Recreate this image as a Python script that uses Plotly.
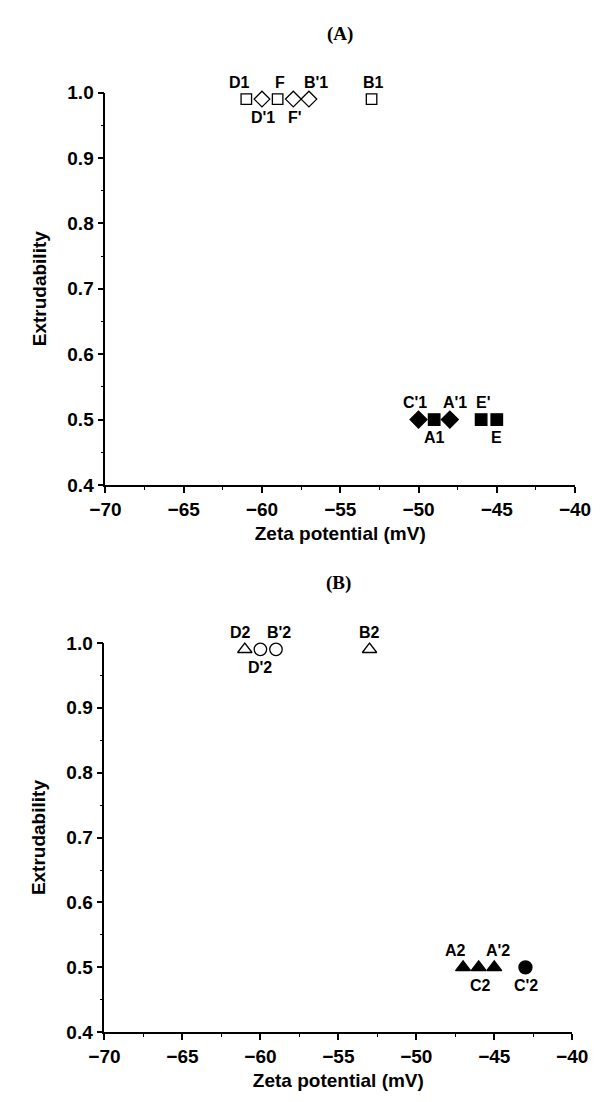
import plotly.graph_objects as go

# ---------------- data ----------------
# Panel A
a_open_sq_lbl = ["D1", "F", "B1"]
a_open_sq_x = [-61, -59, -53]
a_open_sq_y = [0.99, 0.99, 0.99]

a_open_dia_lbl = ["D'1", "F'", "B'1"]
a_open_dia_x = [-60, -58, -57]
a_open_dia_y = [0.99, 0.99, 0.99]

a_fill_dia_lbl = ["C'1", "A'1"]
a_fill_dia_x = [-50, -48]
a_fill_dia_y = [0.5, 0.5]

a_fill_sq_lbl = ["A1", "E'", "E"]
a_fill_sq_x = [-49, -46, -45]
a_fill_sq_y = [0.5, 0.5, 0.5]

# Panel B
b_open_tri_lbl = ["D2", "B2"]
b_open_tri_x = [-61, -53]
b_open_tri_y = [0.99, 0.99]

b_open_circ_lbl = ["D'2", "B'2"]
b_open_circ_x = [-60, -59]
b_open_circ_y = [0.99, 0.99]

b_fill_tri_lbl = ["A2", "C2", "A'2"]
b_fill_tri_x = [-47, -46, -45]
b_fill_tri_y = [0.5, 0.5, 0.5]

b_fill_circ_lbl = ["C'2"]
b_fill_circ_x = [-43]
b_fill_circ_y = [0.5]

x_ticks = [-70, -65, -60, -55, -50, -45, -40]
y_ticks = [0.4, 0.5, 0.6, 0.7, 0.8, 0.9, 1.0]

# ---------------- styling ----------------
# label placement: (above?, xshift px)
label_style = {
    "D1": (True, -7), "F": (True, 2), "B1": (True, 2), "B'1": (True, 7),
    "D'1": (False, 1), "F'": (False, 2),
    "C'1": (True, -4), "A'1": (True, 5), "E'": (True, 2),
    "A1": (False, 0), "E": (False, 0),
    "D2": (True, -4), "B2": (True, 0), "B'2": (True, 3), "D'2": (False, 0),
    "A2": (True, -8), "A'2": (True, 4), "C2": (False, 2), "C'2": (False, 1),
}

SANS = "Arial, Liberation Sans, sans-serif"
SERIF = "Times New Roman, Liberation Serif, serif"

fig = go.Figure()

def add_series(xs, ys, lbls, symbol, size, xa, ya):
    fig.add_trace(go.Scatter(
        x=xs, y=ys, mode="markers", xaxis=xa, yaxis=ya,
        marker=dict(symbol=symbol, size=size, color="black",
                    line=dict(color="black", width=1.3)),
        cliponaxis=False, showlegend=False, hoverinfo="x+y",
    ))
    for x, y, t in zip(xs, ys, lbls):
        above, xs_ = label_style[t]
        fig.add_annotation(
            x=x, y=y, xref=xa, yref=ya, text=t, showarrow=False,
            xshift=xs_, yshift=17 if above else -18,
            font=dict(family=SANS, size=16, color="black", weight="bold"),
        )

add_series(a_open_sq_x, a_open_sq_y, a_open_sq_lbl, "square-open", 10.5, "x", "y")
add_series(a_open_dia_x, a_open_dia_y, a_open_dia_lbl, "diamond-open", 12, "x", "y")
add_series(a_fill_dia_x, a_fill_dia_y, a_fill_dia_lbl, "diamond", 13, "x", "y")
add_series(a_fill_sq_x, a_fill_sq_y, a_fill_sq_lbl, "square", 11.5, "x", "y")

add_series(b_open_tri_x, b_open_tri_y, b_open_tri_lbl, "triangle-up-open", 12.5, "x2", "y2")
add_series(b_open_circ_x, b_open_circ_y, b_open_circ_lbl, "circle-open", 12.5, "x2", "y2")
add_series(b_fill_tri_x, b_fill_tri_y, b_fill_tri_lbl, "triangle-up", 13, "x2", "y2")
add_series(b_fill_circ_x, b_fill_circ_y, b_fill_circ_lbl, "circle", 13, "x2", "y2")

tickfont = dict(family=SANS, size=19, color="black", weight="bold")
titlefont = dict(family=SANS, size=19, color="black", weight="bold")

def xaxis(domain, anchor):
    return dict(
        domain=domain, anchor=anchor, range=[-70, -40],
        tickvals=x_ticks, ticktext=["\u2212" + str(abs(v)) for v in x_ticks],
        ticks="outside", ticklen=6, tickwidth=1.5, tickcolor="black",
        showline=True, linecolor="black", linewidth=1.8, showgrid=False,
        zeroline=False, mirror=False, tickfont=tickfont,
        minor=dict(tickvals=[v + 2.5 for v in x_ticks[:-1]], ticks="outside",
                   ticklen=3, tickwidth=1.3, tickcolor="black", showgrid=False),
        title=dict(text="Zeta potential (mV)", font=titlefont, standoff=8),
    )

def yaxis(domain, anchor):
    return dict(
        domain=domain, anchor=anchor, range=[0.4, 1.0],
        tickvals=y_ticks, ticktext=[f"{v:.1f}" for v in y_ticks],
        ticks="outside", ticklen=6, tickwidth=1.5, tickcolor="black",
        showline=True, linecolor="black", linewidth=1.8, showgrid=False,
        zeroline=False, mirror=False, tickfont=tickfont,
        minor=dict(tickvals=[v + 0.05 for v in y_ticks[:-1]], ticks="outside",
                   ticklen=3, tickwidth=1.3, tickcolor="black", showgrid=False),
        title=dict(text="Extrudability", font=titlefont, standoff=16),
    )

W, H = 602, 1102
fig.update_layout(
    width=W, height=H, margin=dict(l=0, r=0, t=0, b=0),
    paper_bgcolor="white", plot_bgcolor="white", showlegend=False,
    xaxis=xaxis([86 / W, 582 / W], "y"),
    yaxis=yaxis([1 - 476 / H, 1 - 76 / H], "x"),
    xaxis2=xaxis([85 / W, 579 / W], "y2"),
    yaxis2=yaxis([1 - 1034 / H, 1 - 637 / H], "x2"),
)

for txt, ypx, xc in [("(A)", 16, 334), ("(B)", 576, 332)]:
    fig.add_annotation(
        x=xc / W, y=1 - ypx / H, xref="paper", yref="paper", text=txt,
        showarrow=False, xanchor="center", yanchor="middle",
        font=dict(family=SERIF, size=19, color="black", weight="bold"),
    )

fig.write_html("out.html")
